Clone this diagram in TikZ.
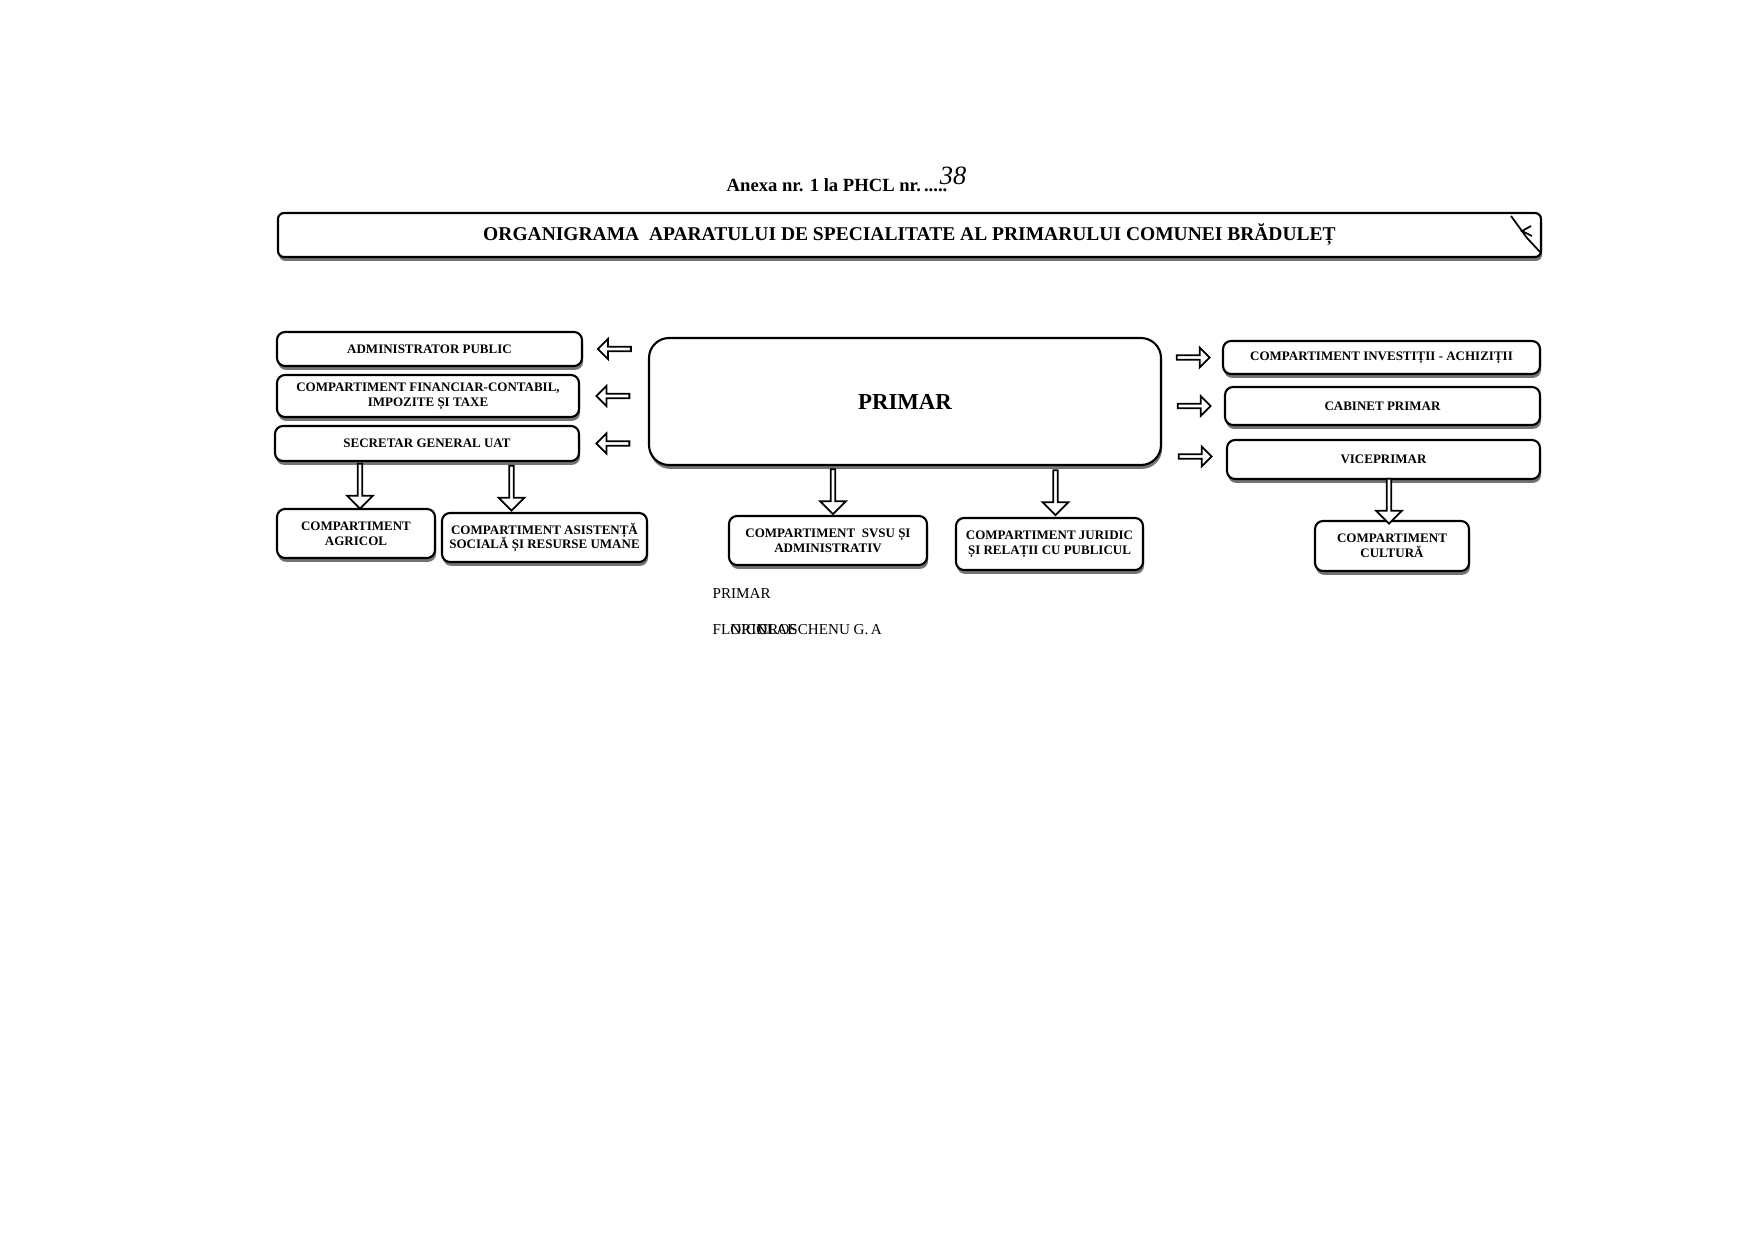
\documentclass[tikz,border=0pt]{standalone}
\usepackage{fontspec}
\setmainfont{Liberation Serif}
\usetikzlibrary{positioning,calc,shapes.arrows,shadows}

\begin{document}
\begin{tikzpicture}
[
	x=0.1mm, y=-0.1mm,
	orgbox/.style={draw,line width=0.6pt,rounded corners=0.8mm,fill=white,align=center,inner sep=0pt,
		font=\fontsize{3.7}{4.2}\selectfont\bfseries,
		drop shadow={shadow xshift=0.3pt,shadow yshift=-1.1pt,fill=black!55,opacity=1}},
	bigbox/.style={orgbox,rounded corners=2mm,font=\fontsize{6.5}{7}\selectfont\bfseries},
	banner/.style={orgbox,rounded corners=0.6mm,font=\fontsize{5.55}{6}\selectfont\bfseries},
	harrow/.style={single arrow,draw,line width=0.5pt,fill=white,inner sep=0pt,
		minimum height=3.3mm,minimum width=2mm,single arrow head extend=0.3mm},
	varrow/.style={single arrow,draw,line width=0.5pt,fill=white,inner sep=0pt,
		minimum height=4.5mm,minimum width=2.6mm,single arrow head extend=0.4mm,
		shape border rotate=270}
]

	\useasboundingbox (0,0) rectangle (1754,1240);

	% header
	\node[font=\fontsize{5.3}{6}\selectfont\bfseries] (anexa) at (837,185) {Anexa nr. 1 la PHCL nr.\,.....};
	\node[font=\fontsize{7.5}{9}\selectfont\itshape] (nr) at (953,176) {38};
	\node[banner,minimum width=126.3mm,minimum height=4.4mm] (titlu) at (909.5,235)
		{ORGANIGRAMA\ \ APARATULUI DE SPECIALITATE AL PRIMARULUI COMUNEI BRĂDULEȚ};
	\draw[line width=0.5pt] (1511,216) -- (1527,238) -- (1540,252);
	\draw[line width=0.5pt] (1531,226) -- (1522,231) -- (1532,236);

	% boxes
	\node[bigbox,minimum width=51.2mm,minimum height=12.7mm] (primar) at (905,401.5) {PRIMAR};
	\node[orgbox,minimum width=30.5mm,minimum height=3.4mm] (admin) at (429.5,349) {ADMINISTRATOR PUBLIC};
	\node[orgbox,minimum width=30.2mm,minimum height=4.2mm] (financiar) at (428,396)
		{COMPARTIMENT FINANCIAR-CONTABIL,\\IMPOZITE ȘI TAXE};
	\node[orgbox,minimum width=30.4mm,minimum height=3.5mm] (secretar) at (427,443.5) {SECRETAR GENERAL UAT};
	\node[orgbox,minimum width=31.7mm,minimum height=3.3mm] (investitii) at (1381.5,357.5) {COMPARTIMENT INVESTIȚII - ACHIZIȚII};
	\node[orgbox,minimum width=31.5mm,minimum height=3.8mm] (cabinet) at (1382.5,406) {CABINET PRIMAR};
	\node[orgbox,minimum width=31.3mm,minimum height=3.9mm] (vice) at (1383.5,459.5) {VICEPRIMAR};
	\node[orgbox,minimum width=15.8mm,minimum height=4.9mm] (agricol) at (356,533.5) {COMPARTIMENT\\AGRICOL};
	\node[orgbox,minimum width=20.5mm,minimum height=4.9mm] (asistenta) at (544.5,537.5)
		{COMPARTIMENT ASISTENȚĂ\\SOCIALĂ ȘI RESURSE UMANE};
	\node[orgbox,minimum width=19.8mm,minimum height=4.9mm] (svsu) at (828,540.5)
		{COMPARTIMENT\ \ SVSU ȘI\\ADMINISTRATIV};
	\node[orgbox,minimum width=18.7mm,minimum height=5.2mm] (juridic) at (1049.5,544)
		{COMPARTIMENT JURIDIC\\ȘI RELAȚII CU PUBLICUL};
	\node[orgbox,minimum width=15.4mm,minimum height=5mm] (cultura) at (1392,546) {COMPARTIMENT\\CULTURĂ};

	% arrows
	\node[harrow,shape border rotate=180] (a1) at ($(admin.east)!0.5!(primar.west |- admin.east)$) {};
	\node[harrow,shape border rotate=180] (a2) at ($(financiar.east)!0.5!(primar.west |- financiar.east)$) {};
	\node[harrow,shape border rotate=180] (a3) at ($(secretar.east)!0.5!(primar.west |- secretar.east)$) {};
	\node[harrow] (a4) at ($(primar.east |- investitii.west)!0.5!(investitii.west)$) {};
	\node[harrow] (a5) at ($(primar.east |- cabinet.west)!0.5!(cabinet.west)$) {};
	\node[harrow] (a6) at ($(primar.east |- vice.west)!0.5!(vice.west) + (0,-3)$) {};
	\node[varrow] (d1) at ($(agricol.north |- secretar.south)!0.5!(agricol.north) + (4,0)$) {};
	\node[varrow] (d2) at ($(asistenta.north |- secretar.south)!0.5!(asistenta.north) + (-33,0)$) {};
	\node[varrow] (d3) at ($(svsu.north |- primar.south)!0.5!(svsu.north) + (5,0)$) {};
	\node[varrow] (d4) at ($(juridic.north |- primar.south)!0.5!(juridic.north) + (6,0)$) {};
	\node[varrow] (d5) at ($(cultura.north |- vice.south)!0.5!(cultura.north) + (-3,0)$) {};

	% signature
	\node[anchor=west,inner sep=0pt,font=\fontsize{4.3}{5}\selectfont] (semn) at (712,593) {PRIMAR};
	\node[anchor=west,inner sep=0pt,font=\fontsize{4.3}{5}\selectfont] (nume) at (712,630)
		{\rlap{FLORIN}\hspace{5pt}\rlap{NICOLAE}\hspace{8pt}CROSCHENU G.\,A};

\end{tikzpicture}
\end{document}
